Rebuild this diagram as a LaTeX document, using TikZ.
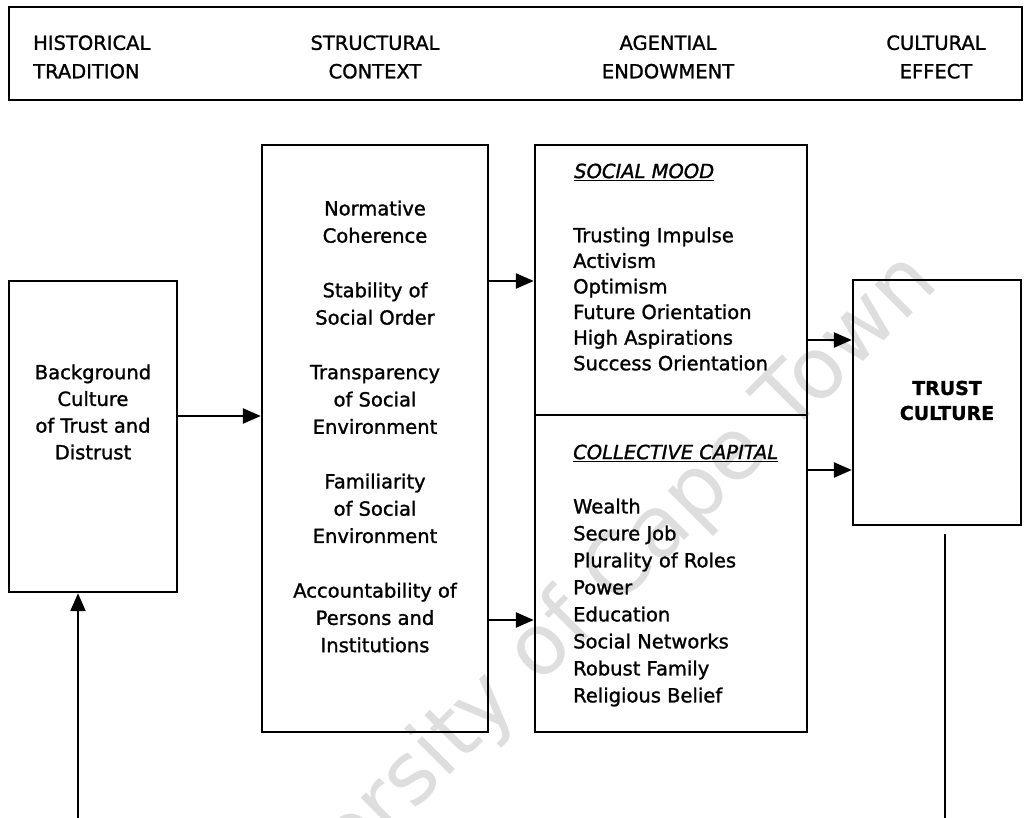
\documentclass[tikz,border=0pt]{standalone}
\usepackage{fontspec}
\setmainfont{DejaVu Sans}
\newfontfamily\heavy{DejaVu Sans}[FakeBold=1.3]
\usetikzlibrary{arrows.meta}
\begin{document}
\begin{tikzpicture}[x=1pt,y=-1pt,
  box/.style={draw,line width=2.4pt,inner sep=0pt},
  conn/.style={line width=2.4pt,-{Triangle[length=18pt,width=15pt]}},
  plain/.style={line width=2.4pt},
  txt/.style={font=\heavy\fontsize{19.5}{27.3}\selectfont,inner sep=0pt,align=center},
  list/.style={font=\heavy\fontsize{19.5}{25.6}\selectfont,inner sep=0pt,align=left,anchor=west},
  head/.style={font=\heavy\fontsize{19.5}{28.5}\selectfont,inner sep=0pt,align=center},
]
\useasboundingbox (0,0) rectangle (1026,818);
% watermark
\begin{scope}
\clip (0,0) rectangle (1026,818);
\node[rotate=45, anchor=center, text=black!13, font=\fontsize{85}{85}\selectfont, inner sep=0pt] (wm) at (562,630) {University of Cape Town};
\end{scope}
% header
\node[box, minimum width=1013pt, minimum height=93pt] (hdr) at (515.5,53.5) {};
\node[head, align=left, anchor=west] (h1) at (33,57) {HISTORICAL\\TRADITION};
\node[head] (h2) at (375,57) {STRUCTURAL\\CONTEXT};
\node[head] (h3) at (668,57) {AGENTIAL\\ENDOWMENT};
\node[head] (h4) at (936,57) {CULTURAL\\EFFECT};
% boxes
\node[box, minimum width=168pt, minimum height=311pt] (bg) at (93,436.5) {};
\node[box, minimum width=226pt, minimum height=587pt] (sc) at (375,438.5) {};
\node[box, minimum width=272pt, minimum height=270pt] (sm) at (671,280) {};
\node[box, minimum width=272pt, minimum height=317pt] (cc) at (671,573.5) {};
\node[box, minimum width=168pt, minimum height=245pt] (tc) at (937,402.5) {};
% texts
\node[txt, font=\heavy\fontsize{19.5}{26.7}\selectfont] (bgt) at (93,412) {Background\\Culture\\of Trust and\\Distrust};
\node[txt] (sct) at (375,426.5) {Normative\\Coherence\\[27.3pt]Stability of\\Social Order\\[27.3pt]Transparency\\of Social\\Environment\\[27.3pt]Familiarity\\of Social\\Environment\\[27.3pt]Accountability of\\Persons and\\Institutions};
\node[list] (smh) at (574,172) {\underline{\itshape SOCIAL MOOD}};
\node[list] (smt) at (573,299) {Trusting Impulse\\Activism\\Optimism\\Future Orientation\\High Aspirations\\Success Orientation};
\node[list] (cch) at (573,453) {\underline{\itshape COLLECTIVE CAPITAL}};
\node[list, font=\heavy\fontsize{19.5}{27}\selectfont] (cct) at (573,602.5) {Wealth\\Secure Job\\Plurality of Roles\\Power\\Education\\Social Networks\\Robust Family\\Religious Belief};
\node[txt, font=\heavy\fontsize{19}{25}\bfseries] (tct) at (947,400.5) {TRUST\\CULTURE};
% connectors
\draw[conn] (bg.east |- 0,416) -- (sc.west |- 0,416);
\draw[conn] (sc.east |- 0,281) -- (sm.west |- 0,281);
\draw[conn] (sc.east |- 0,620) -- (cc.west |- 0,620);
\draw[conn] (sm.east |- 0,340) -- (tc.west |- 0,340);
\draw[conn] (cc.east |- 0,470) -- (tc.west |- 0,470);
\coordinate (tcend) at (945,818);
\draw[plain] ([yshift=-8pt]tc.south -| tcend) -- (tcend);
\coordinate (fb) at (78,818);
\draw[conn] (fb) -- (fb |- bg.south);
\end{tikzpicture}
\end{document}
